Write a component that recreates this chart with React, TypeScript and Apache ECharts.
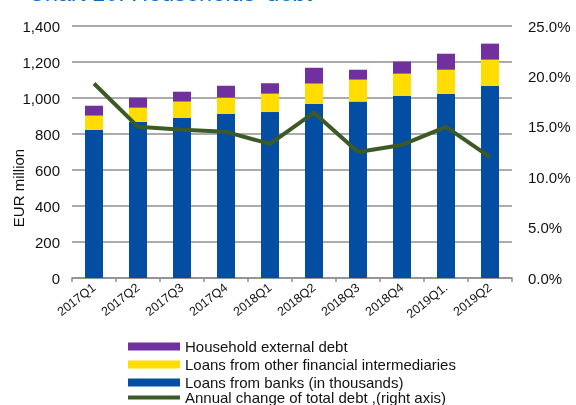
import React, { useEffect, useRef } from "react";
import * as echarts from "echarts";

const categories = ["2017Q1", "2017Q2", "2017Q3", "2017Q4", "2018Q1", "2018Q2", "2018Q3", "2018Q4", "2019Q1.", "2019Q2"];
const loansBanks = [824, 867, 889, 911, 922, 968, 980, 1013, 1024, 1068];
const loansOther = [78, 79, 91, 91, 102, 112, 122, 122, 133, 145];
const externalDebt = [55, 56, 55, 66, 58, 88, 55, 67, 89, 89];
const annualChange = [19.3, 15.0, 14.7, 14.5, 13.3, 16.4, 12.5, 13.2, 15.0, 12.0];

const NAME_EXT = "Household external debt";
const NAME_OTHER = "Loans from other financial intermediaries";
const NAME_BANKS = "Loans from banks (in thousands)";
const NAME_LINE = "Annual change of total debt ,(right axis)";

const FONT = "'Liberation Sans', Arial, sans-serif";

export default function App() {
  const ref = useRef<HTMLDivElement>(null);
  useEffect(() => {
    if (!ref.current) return;
    const chart = echarts.init(ref.current, null, { renderer: "svg" });
    const gridColor = "#8f8f8f";
    const legendText = { fontSize: 15, color: "#111", fontFamily: FONT, lineHeight: 14 };
    chart.setOption({
      animation: false,
      textStyle: { fontFamily: FONT },
      grid: { left: 72, right: 64, top: 26, bottom: 127, containLabel: false },
      graphic: [
        {
          type: "text",
          x: 28,
          y: 5,
          style: {
            text: "Chart 10: Households' debt",
            fill: "#0a6cc2",
            font: `23.5px ${FONT}`,
            verticalAlign: "bottom",
          },
        },
        {
          type: "text",
          x: 18,
          y: 188,
          rotation: Math.PI / 2,
          style: {
            text: "EUR million",
            fill: "#111",
            font: `15px ${FONT}`,
            align: "center",
            verticalAlign: "middle",
          },
        },
      ],
      legend: [
        {
          orient: "vertical",
          left: 123,
          top: 334,
          width: 400,
          height: 60,
          itemWidth: 52,
          itemHeight: 8,
          itemGap: 3,
          icon: "rect",
          textStyle: legendText,
          data: [NAME_EXT, NAME_OTHER, NAME_BANKS],
        },
        {
          orient: "vertical",
          left: 123,
          top: 385,
          width: 400,
          height: 18,
          itemWidth: 52,
          itemHeight: 4,
          icon: "rect",
          textStyle: legendText,
          data: [NAME_LINE],
        },
      ],
      xAxis: {
        type: "category",
        data: categories,
        axisLine: { lineStyle: { color: gridColor, width: 1.5 } },
        axisTick: { show: true, length: 4, lineStyle: { color: gridColor, width: 1.5 } },
        axisLabel: { rotate: 38, fontSize: 12.5, color: "#111", margin: 8, interval: 0 },
      },
      yAxis: [
        {
          type: "value",
          min: 0,
          max: 1400,
          interval: 200,
          axisLine: { show: false },
          axisTick: { show: false },
          splitLine: { lineStyle: { color: gridColor, width: 1.5 } },
          axisLabel: {
            fontSize: 15,
            color: "#111",
            margin: 12,
            formatter: (v: number) => v.toLocaleString("en-US"),
          },
        },
        {
          type: "value",
          min: 0,
          max: 25,
          interval: 5,
          position: "right",
          axisLine: { show: false },
          axisTick: { show: false },
          splitLine: { show: false },
          axisLabel: {
            fontSize: 15,
            color: "#111",
            margin: 16,
            formatter: (v: number) => v.toFixed(1) + "%",
          },
        },
      ],
      series: [
        {
          name: NAME_BANKS,
          type: "bar",
          stack: "debt",
          data: loansBanks,
          barWidth: 18,
          itemStyle: { color: "#034ea2" },
        },
        {
          name: NAME_OTHER,
          type: "bar",
          stack: "debt",
          data: loansOther,
          barWidth: 18,
          itemStyle: { color: "#ffdd00" },
        },
        {
          name: NAME_EXT,
          type: "bar",
          stack: "debt",
          data: externalDebt,
          barWidth: 18,
          itemStyle: { color: "#7030a0" },
        },
        {
          name: NAME_LINE,
          type: "line",
          yAxisIndex: 1,
          data: annualChange,
          symbol: "none",
          lineStyle: { color: "#3d5a26", width: 4 },
          itemStyle: { color: "#3d5a26" },
        },
      ],
    });
    return () => chart.dispose();
  }, []);
  return (
    <div
      ref={ref}
      style={{ position: "fixed", left: 0, top: 0, width: 576, height: 405 }}
    />
  );
}
